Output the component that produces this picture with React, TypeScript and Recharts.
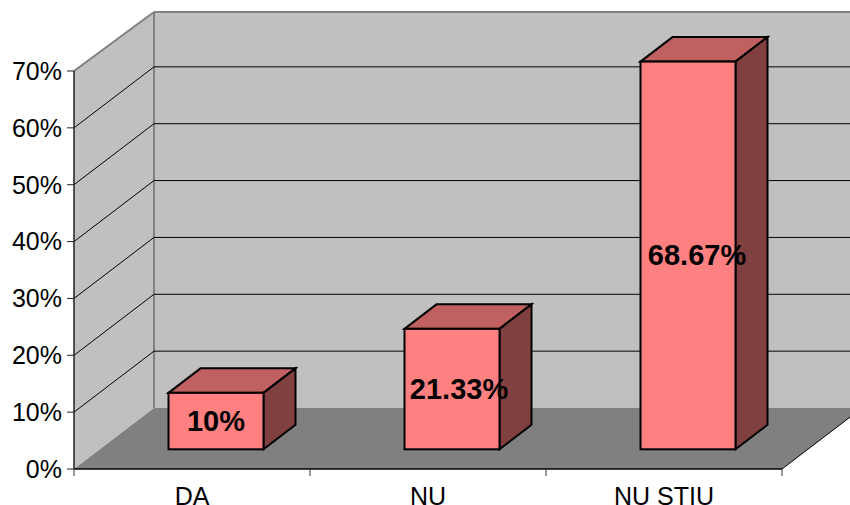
import React from "react";
import { ComposedChart, Bar, XAxis, YAxis, CartesianGrid, LabelList, usePlotArea } from "recharts";

const categories = ["DA", "NU", "NU STIU"];
const shares = [10, 21.33, 68.67];
const yTicks = [0, 10, 20, 30, 40, 50, 60, 70];
const labelNudges = [0, 7, 9];

const rows = categories.map((name, i) => ({ name, share: shares[i] }));

const FONT = "'Liberation Sans', Arial, sans-serif";
const WALL_DX = 80;
const WALL_DY = 61;
const WALL_TOP_DY = 59;
const BAR_SHIFT_X = 23.5;
const BAR_SHIFT_Y = 19.7;
const BAR_DX = 32;
const BAR_DY = 24.5;
const BAR_FORESHORTEN = 0.993;
const X_TICK_LEN = 7;
const X_LABEL_DROP = 27;

const Walls = () => {
  const plot = usePlotArea();
  if (!plot) return null;
  const l = plot.x;
  const r = plot.x + plot.width;
  const t = plot.y;
  const b = plot.y + plot.height;
  const bx = l + WALL_DX;
  const rx = r + WALL_DX;
  const ty = t - WALL_TOP_DY;
  const fy = b - WALL_DY;
  const edge = "#808080";
  return (
    <g>
      <polygon points={`${bx},${ty} ${rx},${ty} ${rx},${fy} ${bx},${fy}`} fill="#C0C0C0" />
      <polygon points={`${l},${t} ${bx},${ty} ${bx},${fy} ${l},${b}`} fill="#C0C0C0" />
      <polygon points={`${l},${b} ${bx},${fy} ${rx},${fy} ${r},${b}`} fill="#808080" />
      <line x1={bx} y1={ty} x2={rx} y2={ty} stroke={edge} strokeWidth={2} />
      <line x1={bx} y1={ty} x2={bx} y2={fy} stroke={edge} strokeWidth={2} />
      <line x1={l} y1={t} x2={bx} y2={ty} stroke={edge} strokeWidth={2} />
      <line x1={r} y1={b} x2={rx} y2={fy} stroke="#000" strokeWidth={1} />
    </g>
  );
};

const GridItem = (p: any) => {
  const plot = usePlotArea();
  if (!plot) return null;
  const isEdge = Math.abs(p.y1 - plot.y) < 1 || Math.abs(p.y1 - (plot.y + plot.height)) < 1;
  return (
    <g>
      {p.index === 0 ? <Walls /> : null}
      {isEdge ? null : (
        <g>
          <line x1={p.x1} y1={p.y1} x2={p.x1 + WALL_DX} y2={p.y1 - WALL_DY} stroke="#000" strokeWidth={1} />
          <line x1={p.x1 + WALL_DX} y1={p.y1 - WALL_DY} x2={p.x2 + WALL_DX} y2={p.y1 - WALL_DY} stroke="#000" strokeWidth={1} />
        </g>
      )}
    </g>
  );
};

const gridLine = (p: any) => <GridItem key={p.key} {...p} />;

const XTick = (p: any) => {
  const plot = usePlotArea();
  if (!plot) return null;
  const half = plot.width / categories.length / 2;
  const top = plot.y + plot.height;
  const isLast = p.index === categories.length - 1;
  return (
    <g>
      <line x1={p.x - half} y1={top} x2={p.x - half} y2={top + X_TICK_LEN} stroke="#333" strokeWidth={1} />
      {isLast ? <line x1={p.x + half} y1={top} x2={p.x + half} y2={top + X_TICK_LEN} stroke="#333" strokeWidth={1} /> : null}
      <text x={p.x} y={top + X_LABEL_DROP} dy="0.36em" textAnchor="middle" fontFamily={FONT} fontSize={25} fill="#000">
        {p.payload.value}
      </text>
    </g>
  );
};

const Box = (p: any) => {
  const x = p.x + BAR_SHIFT_X;
  const h = p.height * BAR_FORESHORTEN;
  const y = p.y + p.height - h - BAR_SHIFT_Y;
  const w = p.width;
  return (
    <g stroke="#000" strokeWidth={2} strokeLinejoin="miter">
      <polygon points={`${x},${y} ${x + BAR_DX},${y - BAR_DY} ${x + w + BAR_DX},${y - BAR_DY} ${x + w},${y}`} fill="#C06060" />
      <polygon points={`${x + w},${y} ${x + w + BAR_DX},${y - BAR_DY} ${x + w + BAR_DX},${y + h - BAR_DY} ${x + w},${y + h}`} fill="#804040" />
      <rect x={x} y={y} width={w} height={h} fill="#FF8080" />
    </g>
  );
};

const BoxLabel = (p: any) => {
  const cx = p.x + BAR_SHIFT_X + p.width / 2 + labelNudges[p.index];
  const cy = p.y - BAR_SHIFT_Y + p.height / 2;
  return (
    <text x={cx} y={cy} dy="0.36em" textAnchor="middle" fontFamily={FONT} fontSize={29} fontWeight="bold" fill="#000">
      {`${p.value}%`}
    </text>
  );
};

export default function App() {
  return (
    <div style={{ position: "absolute", left: 0, top: 0, width: 850, height: 505 }}>
      <ComposedChart width={850} height={505} data={rows} margin={{ top: 71, right: 68, bottom: 0, left: 0 }}>
        <CartesianGrid vertical={false} horizontal={gridLine} stroke="#000" />
        <XAxis
          dataKey="name"
          height={36}
          interval={0}
          axisLine={{ stroke: "#000", strokeWidth: 1.5 }}
          tickLine={false}
          tick={(p: any) => <XTick {...p} />}
        />
        <YAxis
          width={74}
          domain={[0, 70]}
          ticks={yTicks}
          interval={0}
          tickSize={7}
          tickMargin={5}
          tickFormatter={(v: number) => `${v}%`}
          axisLine={{ stroke: "#222", strokeWidth: 1.5 }}
          tickLine={{ stroke: "#222", strokeWidth: 1 }}
          tick={{ fontFamily: FONT, fontSize: 25, fill: "#000" }}
        />
        <Bar dataKey="share" barSize={95} shape={Box} isAnimationActive={false}>
          <LabelList dataKey="share" content={BoxLabel} />
        </Bar>
      </ComposedChart>
    </div>
  );
}
